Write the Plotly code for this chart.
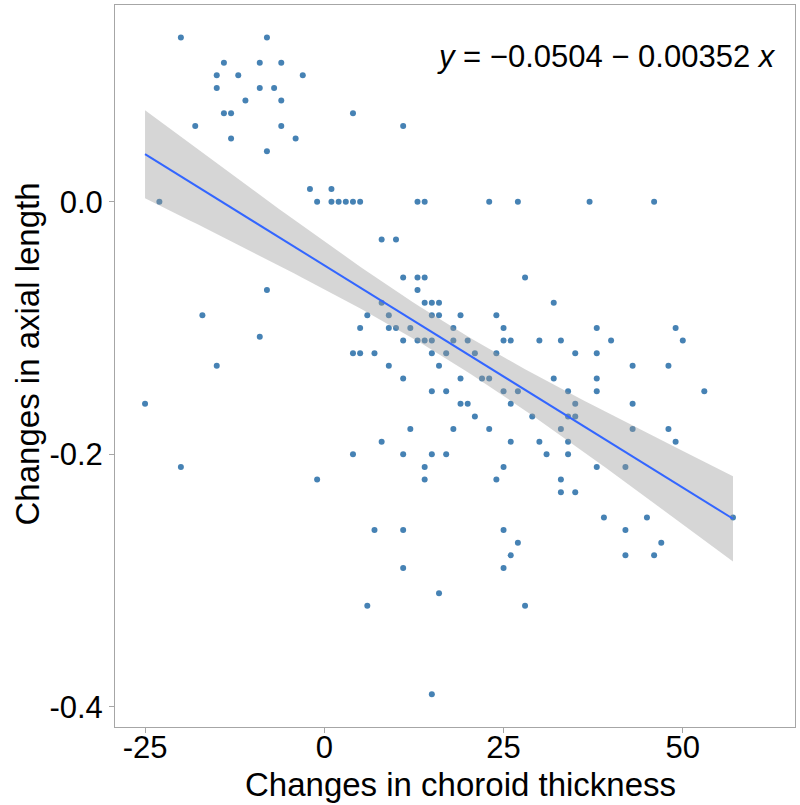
import numpy as np
import plotly.graph_objects as go

# Changes in choroid thickness (x) and changes in axial length (y)
choroid_change = [
    -20, -8, -14, -9, -6, -15, -12, -3, -15, -9, -7, -11, -6, -14, -13, -18, -6, -13, -4, -8,
    -23, -2, 1, -1, 1, 2,
    4, 11, 3, 4, 5, 13, 14, 23, 27, 8, 10, 37, 46,
    -8, -17, -9, -15, -25, -20, -1,
    11, 13, 14, 28,
    13,
    8, 14, 15, 16, 32,
    6, 9, 15, 16, 19, 24,
    5, 9, 10, 12, 18, 25,
    11, 13, 14, 15, 18, 20, 25, 26, 30, 33,
    4, 5, 7, 15, 17, 21, 24,
    9, 16,
    11, 19, 22, 23, 32,
    15, 17, 25, 27, 34,
    19, 20, 26,
    21, 29,
    12, 18, 23, 33,
    8, 26, 30, 34,
    4, 11, 15, 17, 31, 34,
    14, 25,
    14, 24, 33,
    33,
    38, 49, 40, 50, 35, 38, 43, 48, 38, 38, 53, 35, 43, 34, 35, 43, 48, 49, 38, 42, 35,
    7, 11, 25, 27, 26, 11, 25, 16, 6, 28, 15,
    39, 45, 42, 47, 42, 46, 57,
]
axial_change = [
    0.13, 0.13, 0.11, 0.11, 0.11, 0.10, 0.10, 0.10, 0.09, 0.09, 0.09, 0.08, 0.08, 0.07, 0.07, 0.06, 0.06, 0.05, 0.05, 0.04,
    0.00, 0.01, 0.01, 0.00, 0.00, 0.00,
    0.07, 0.06, 0.00, 0.00, 0.00, 0.00, 0.00, 0.00, 0.00, -0.03, -0.03, 0.00, 0.00,
    -0.07, -0.09, -0.107, -0.13, -0.16, -0.21, -0.22,
    -0.06, -0.06, -0.06, -0.06,
    -0.07,
    -0.08, -0.08, -0.08, -0.08, -0.08,
    -0.09, -0.09, -0.09, -0.09, -0.09, -0.09,
    -0.10, -0.10, -0.10, -0.10, -0.10, -0.10,
    -0.11, -0.11, -0.11, -0.11, -0.11, -0.11, -0.11, -0.11, -0.11, -0.11,
    -0.12, -0.12, -0.12, -0.12, -0.12, -0.12, -0.12,
    -0.13, -0.13,
    -0.14, -0.14, -0.14, -0.14, -0.14,
    -0.15, -0.15, -0.15, -0.15, -0.15,
    -0.16, -0.16, -0.16,
    -0.17, -0.17,
    -0.18, -0.18, -0.18, -0.18,
    -0.19, -0.19, -0.19, -0.19,
    -0.20, -0.20, -0.20, -0.20, -0.20, -0.20,
    -0.21, -0.21,
    -0.22, -0.22, -0.22,
    -0.23,
    -0.10, -0.10, -0.11, -0.11, -0.12, -0.12, -0.13, -0.13, -0.14, -0.15, -0.15, -0.16, -0.16, -0.17, -0.17, -0.18, -0.18, -0.19, -0.21, -0.21, -0.23,
    -0.26, -0.26, -0.26, -0.27, -0.28, -0.29, -0.29, -0.31, -0.32, -0.32, -0.39,
    -0.25, -0.25, -0.26, -0.27, -0.28, -0.28, -0.25,
]

# Regression coefficients as printed on the chart
intercept = -0.0504
slope = -0.00352
equation_text = "<i>y</i> = −0.0504 − 0.00352 <i>x</i>"

x_ticks = [-25, 0, 25, 50]
x_tick_labels = ["-25", "0", "25", "50"]
y_ticks = [-0.4, -0.2, 0.0]
y_tick_labels = ["-0.4", "-0.2", "0.0"]

x = np.array(choroid_change, dtype=float)
y = np.array(axial_change, dtype=float)
n = len(x)
xbar = x.mean()
sxx = ((x - xbar) ** 2).sum()
resid = y - (intercept + slope * x)
s = np.sqrt((resid ** 2).sum() / (n - 2))
t_crit = 1.976

xs = np.linspace(x.min(), x.max(), 80)
fit = intercept + slope * xs
se = s * np.sqrt(1.0 / n + (xs - xbar) ** 2 / sxx)
upper = fit + t_crit * se
lower = fit - t_crit * se

fig = go.Figure()
fig.add_trace(go.Scatter(
    x=x, y=y, mode="markers",
    marker=dict(color="#4682B4", size=6, line=dict(width=0)),
    showlegend=False, hoverinfo="x+y",
))
fig.add_trace(go.Scatter(
    x=np.concatenate([xs, xs[::-1]]),
    y=np.concatenate([upper, lower[::-1]]),
    fill="toself", fillcolor="rgba(153,153,153,0.4)",
    line=dict(width=0), mode="lines", showlegend=False, hoverinfo="skip",
))
fig.add_trace(go.Scatter(
    x=xs, y=fit, mode="lines",
    line=dict(color="#3366FF", width=2),
    showlegend=False,
))

axis_common = dict(
    showgrid=False, zeroline=False, automargin=False,
    showline=True, linecolor="#A6A6A6", linewidth=1, mirror=True,
    ticks="outside", ticklen=5, tickcolor="#A6A6A6", tickwidth=1,
    tickfont=dict(family="Liberation Sans, Arial, sans-serif", size=31, color="black"),
)
fig.update_xaxes(range=[-29.19, 65.65], tickvals=x_ticks, ticktext=x_tick_labels,
                 ticklabelstandoff=-12, **axis_common)
fig.update_yaxes(range=[-0.4159, 0.1557], tickvals=y_ticks, ticktext=y_tick_labels, **axis_common)

font_main = "Liberation Sans, Arial, sans-serif"
fig.add_annotation(
    text=equation_text, xref="paper", yref="paper", x=0.470, y=0.928,
    xanchor="left", yanchor="middle", showarrow=False,
    font=dict(family=font_main, size=31, color="black"),
)
fig.add_annotation(
    text="Changes in choroid thickness", xref="paper", yref="paper",
    x=0.5088, y=-0.0790, xanchor="center", yanchor="middle", showarrow=False,
    font=dict(family=font_main, size=33, color="black"),
)
fig.add_annotation(
    text="Changes in axial length", xref="paper", yref="paper",
    x=-0.128, y=0.5173, xanchor="center", yanchor="middle", showarrow=False,
    textangle=-90,
    font=dict(family=font_main, size=33, color="black"),
)

fig.update_layout(
    width=800, height=805,
    margin=dict(l=115, r=5, t=5, b=78, autoexpand=False),
    paper_bgcolor="white", plot_bgcolor="white",
    showlegend=False,
)

fig.write_html(
    "out.html",
    config={"displayModeBar": False},
    post_script="document.body.style.margin='0';document.body.style.overflow='hidden';",
)
